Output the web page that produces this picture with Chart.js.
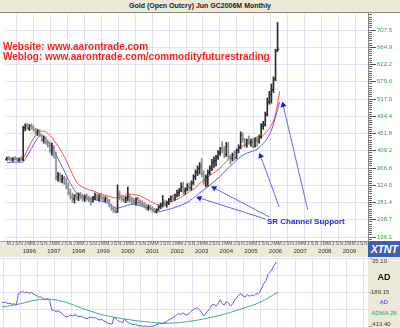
<!DOCTYPE html>
<html><head><meta charset="utf-8">
<script src="https://cdn.jsdelivr.net/npm/chart.js@4.4.1/dist/chart.umd.min.js"></script>
<style>
html,body{margin:0;padding:0;background:#fff;}
#wrap{position:relative;width:400px;height:328px;overflow:hidden;font-family:"Liberation Sans",Arial,sans-serif;}
#titlebar{position:absolute;left:0;top:0;width:400px;height:12px;background:#ece9d8;border-bottom:1px solid #8c8a7c;font-weight:bold;font-size:7px;line-height:12px;text-align:center;color:#222;}
#band{position:absolute;left:0;top:241px;width:368px;height:15px;background:#ece9d8;border-top:1px solid #a8a698;}
#logo{position:absolute;left:368px;top:241px;width:32px;height:16px;background:#3f5fb0;color:#fff;font-weight:bold;font-style:italic;font-size:11px;line-height:16px;text-align:center;letter-spacing:-0.5px;}
#lowright{position:absolute;left:368px;top:257px;width:32px;height:71px;background:#ece9d8;}
.lbl{position:absolute;font-size:6px;line-height:7px;white-space:nowrap;}
#web{position:absolute;left:3px;top:42px;color:#ff1e1e;font-weight:bold;font-size:10px;line-height:10px;white-space:nowrap;}
#sr{position:absolute;left:267px;top:217px;color:#2424e6;font-weight:bold;font-size:8px;line-height:9px;white-space:nowrap;}
canvas{position:absolute;left:0;}
#main{top:0;}
#low{top:257px;}
</style></head>
<body><div id="wrap">
<div id="titlebar">Gold (Open Outcry) Jun GC2006M Monthly</div>
<div id="band"></div>
<div id="logo">XTNT</div>
<div id="lowright"></div>
<canvas id="main" width="400" height="257"></canvas>
<canvas id="low" width="400" height="71"></canvas>
<div id="web">Website: www.aarontrade.com<br>Weblog: www.aarontrade.com/commodityfuturestrading</div>
<div id="sr">SR Channel Support</div>
<div class="lbl" style="left:370px;top:258px;color:#333">&#8254;35.10</div>
<div class="lbl" style="left:368px;top:272px;width:32px;text-align:center;font-size:9px;line-height:10px;font-weight:bold;color:#111">AD</div>
<div class="lbl" style="left:369px;top:289px;color:#333">-189.15</div>
<div class="lbl" style="left:368px;top:299px;width:32px;text-align:center;color:#3030e0">AD</div>
<div class="lbl" style="left:368px;top:310px;width:32px;text-align:center;color:#2a9a8a">ADMA 28</div>
<div class="lbl" style="left:369px;top:321px;color:#333">_413.40</div>
</div>
<script>
// months counted from Jan 1996 (0); first bar = Apr 1995
const firstMonth = -9;
const opens  = [388,390,389,387,390,388,386,389,388,466,470,465,471,466,461,455,458,448,437,441,429,422,410,418,400,345,350,338,342,331,320,305,296,290,298,293,300,294,291,296,290,288,284,293,296,290,297,292,288,291,285,274,266,262,259,302,294,290,288,292,296,287,284,281,290,282,278,275,271,268,271,266,262,260,264,270,274,280,276,282,288,295,290,298,306,312,320,310,314,320,318,330,345,356,366,372,352,336,344,356,366,380,384,394,404,414,410,400,422,394,390,398,392,410,418,448,438,424,436,430,434,420,438,432,444,470,474,500,530,548,560,586,658];
const highs  = [394,395,393,392,395,392,391,394,470,476,477,474,476,472,465,462,461,450,446,444,436,431,428,422,406,356,354,349,346,342,330,315,305,301,307,305,306,302,300,303,298,294,297,305,303,301,304,298,296,295,289,278,272,268,325,310,300,297,296,320,300,295,292,293,294,288,286,282,278,276,275,272,267,266,275,280,299,288,285,292,298,300,302,312,316,330,332,318,328,330,335,350,362,372,380,390,360,350,362,372,388,394,398,410,418,432,420,430,430,400,404,410,414,424,456,454,440,438,446,438,440,442,444,448,476,482,505,540,556,574,592,660,726];
const lows   = [385,386,384,383,386,384,383,385,385,458,462,459,462,458,450,447,445,432,428,425,418,405,398,391,337,334,332,330,326,315,300,290,282,280,288,286,290,285,284,287,283,275,282,288,287,285,289,284,283,280,270,262,257,255,257,288,285,282,281,285,282,278,276,275,278,274,272,268,264,262,263,258,256,255,262,266,270,272,270,276,284,285,287,295,298,308,302,302,310,312,312,325,338,348,352,345,326,320,322,350,360,368,372,388,398,404,392,395,388,376,384,386,390,404,414,430,418,418,425,420,416,418,420,428,440,462,470,495,524,527,553,582,655];
const closes = [390,389,387,390,388,386,389,388,466,470,465,471,466,461,455,458,448,437,441,429,422,410,418,400,345,350,338,342,331,320,305,296,290,298,293,300,294,291,296,290,288,284,293,296,290,297,292,288,291,285,274,266,262,259,302,294,290,288,292,296,287,284,281,290,282,278,275,271,268,271,266,262,260,264,270,274,280,276,282,288,295,290,298,306,312,320,310,314,320,318,330,345,356,366,372,352,336,344,356,366,380,384,394,404,414,410,400,422,394,390,398,392,410,418,448,438,424,436,430,434,420,438,432,444,470,474,500,530,548,560,586,655,660];

const redMonths = [-9,-5,-2,-1,0,1,2,3,5,7,9,11,13,15,17,19,21,23,25,27,30,33,36,40,44,47,50,53,56,59,62,65,68,71,74,77,80,83,86,89,92,95,98,101,104,107,110,113,116,118,120,122,124];
const redValues = [391,391,390,391,400,411,421,431,446,455,458,452,442,428,413,395,374,352,332,322,315,310,304,298,293,296,302,301,298,290,282,275,278,283,289,298,308,318,333,344,355,367,383,397,413,424,429,435,447,458,472,500,556];
const blueMonths = [-9,-5,-2,-1,0,1,3,5,7,9,11,13,15,17,19,21,23,25,28,32,36,40,44,47,50,53,56,59,62,65,68,71,74,77,80,83,86,89,92,95,98,101,104,107,110,113,116,118,120,122,124];
const blueValues = [380,381,381,382,388,397,415,432,446,444,432,418,400,380,360,338,320,305,297,291,286,280,268,270,275,277,273,270,265,259,262,266,271,277,285,297,309,320,333,346,362,376,391,401,407,413,427,440,460,492,530];

const adValues = [-250,-255,-252,-262,-258,-266,-262,-270,-196,-188,-183,-190,-185,-194,-190,-195,-205,-212,-220,-218,-228,-236,-230,-240,-302,-306,-312,-308,-316,-328,-340,-348,-344,-336,-342,-334,-338,-346,-342,-350,-356,-360,-352,-348,-356,-352,-362,-368,-364,-372,-380,-388,-392,-395,-348,-362,-374,-378,-384,-362,-378,-386,-392,-398,-394,-402,-406,-404,-410,-406,-412,-410,-413,-406,-400,-396,-388,-392,-386,-382,-370,-362,-356,-346,-336,-326,-332,-322,-330,-336,-326,-312,-300,-294,-288,-300,-318,-342,-326,-310,-292,-270,-266,-278,-262,-236,-262,-270,-248,-258,-278,-262,-238,-222,-204,-196,-212,-218,-202,-214,-206,-210,-200,-196,-188,-160,-130,-112,-72,-58,-36,-12,10,35];
const admaMonths = [-9,-5,-1,3,7,11,15,19,23,27,31,35,39,43,47,51,55,59,63,67,71,75,79,83,87,91,95,99,103,107,111,115,119,122,124];
const admaValues = [-284,-275,-265,-252,-240,-233,-234,-243,-258,-278,-298,-316,-332,-345,-355,-363,-371,-377,-383,-388,-389,-386,-380,-373,-364,-353,-340,-326,-310,-292,-274,-254,-225,-200,-186];

const priceTicks = [196.1,238.7,281.4,324.0,366.6,409.2,451.8,494.4,537.0,579.6,622.2,664.9,707.5];
const years = ['1996','1997','1998','1999','2000','2001','2002','2003','2004','2005','2006','2007','2008','2009'];
const monthLetters = ['J','F','M','A','M','J','J','A','S','O','N','D'];
const arrowTails = [[117.1,240.7],[119.0,245.7],[123.8,270.4],[137.7,263.0]];
const arrowHeads = [[84.9,292.6],[92.1,317.3],[114.7,396.3],[125.7,522.3]];

const X_MIN = -9.86, X_MAX = 167.07, GRID_STEP = 8.25;
const Y_MIN = 186.4, Y_MAX = 749.5;
const GRID = '#e0e0f2';
Chart.defaults.font.family = '"Liberation Sans", Arial, sans-serif';

const months = opens.map((_, i) => firstMonth + i);
const isUp = i => closes[i] >= opens[i];
const barCol = i => isUp(i) ? '#2a2a2a' : '#8c8c8c';

function noPad(s){ s.paddingLeft=0; s.paddingRight=0; s.paddingTop=0; s.paddingBottom=0; }
function gridTicks(s){ const t=[]; for(let v=-GRID_STEP; v<=X_MAX; v+=GRID_STEP) t.push({value:v}); s.ticks=t; }

const datasets = [
  { type:'bar', label:'range', xAxisID:'x', yAxisID:'y',
    data: months.map((m,i)=>({x:m, y:[lows[i], highs[i]]})),
    backgroundColor: ctx => barCol(ctx.dataIndex), borderWidth:0, barThickness:1, grouped:false },
  { type:'line', label:'open', xAxisID:'x', yAxisID:'y', showLine:false,
    data: months.map((m,i)=>({x:m-0.45, y:opens[i]})),
    pointStyle:'line', pointRadius:0.8, pointBorderWidth:1, pointBorderColor: ctx => barCol(ctx.dataIndex) },
  { type:'line', label:'close', xAxisID:'x', yAxisID:'y', showLine:false,
    data: months.map((m,i)=>({x:m+0.45, y:closes[i]})),
    pointStyle:'line', pointRadius:0.8, pointBorderWidth:1, pointBorderColor: ctx => barCol(ctx.dataIndex) },
  { type:'line', label:'upper', xAxisID:'x', yAxisID:'y',
    data: redMonths.map((m,i)=>({x:m, y:redValues[i]})),
    borderColor:'#ff4a4a', borderWidth:1, pointRadius:0, tension:0.35 },
  { type:'line', label:'lower', xAxisID:'x', yAxisID:'y',
    data: blueMonths.map((m,i)=>({x:m, y:blueValues[i]})),
    borderColor:'#5a5aff', borderWidth:1, pointRadius:0, tension:0.35 },
];
arrowTails.forEach((t, k) => {
  const h = arrowHeads[k];
  datasets.push({ type:'line', label:'arrow'+k, xAxisID:'x', yAxisID:'y',
    data:[{x:t[0], y:t[1]}, {x:h[0], y:h[1]}],
    borderColor:'#6464f5', borderWidth:1, tension:0,
    pointStyle:'triangle',
    pointRadius: ctx => ctx.dataIndex===1 ? 3.5 : 0,
    pointBackgroundColor:'#1e1ef0', pointBorderColor:'#1e1ef0', pointBorderWidth:0,
    pointRotation: ctx => {
      const sx = ctx.chart.scales.x, sy = ctx.chart.scales.y;
      const dx = sx.getPixelForValue(h[0]) - sx.getPixelForValue(t[0]);
      const dy = sy.getPixelForValue(h[1]) - sy.getPixelForValue(t[1]);
      return Math.atan2(dx, -dy) * 180 / Math.PI;
    } });
});

new Chart(document.getElementById('main'), {
  type:'bar',
  data:{ datasets },
  options:{
    responsive:false, animation:false, devicePixelRatio:1,
    layout:{ padding:{ top:13, left:0, right:0, bottom:0 } },
    plugins:{ legend:{display:false}, tooltip:{enabled:false} },
    scales:{
      x:{ type:'linear', min:X_MIN, max:X_MAX, position:'bottom', offset:false, weight:0,
          grid:{ color:GRID, drawTicks:false }, border:{display:false}, ticks:{display:false},
          afterBuildTicks: gridTicks, afterFit: s => { s.height = 0; noPad(s); } },
      xm:{ type:'linear', min:X_MIN, max:X_MAX, position:'bottom', offset:false, weight:1,
          grid:{ display:false, drawTicks:false }, border:{display:false},
          afterBuildTicks: s => { const t=[]; for(let v=-8; v<=X_MAX; v+=2) t.push({value:v}); s.ticks=t; },
          ticks:{ autoSkip:false, maxRotation:0, minRotation:0, padding:0, color:'#555', font:{size:5},
                  callback: v => monthLetters[((v%12)+12)%12] },
          afterFit: s => { s.height = 7; noPad(s); } },
      xy:{ type:'linear', min:X_MIN, max:X_MAX, position:'bottom', offset:false, weight:2,
          grid:{ display:false, drawTicks:false }, border:{display:false},
          afterBuildTicks: s => { s.ticks = years.map((y,k)=>({value:12*k+2})); },
          ticks:{ autoSkip:false, maxRotation:0, minRotation:0, padding:0, color:'#333', font:{size:6},
                  callback: (v) => years[Math.round((v-2)/12)] },
          afterFit: s => { s.height = 9; noPad(s); } },
      yr:{ type:'linear', min:Y_MIN, max:Y_MAX, position:'right', weight:0,
          grid:{ drawOnChartArea:false, drawTicks:true, tickLength:4, tickColor:'#666' },
          border:{ display:true, color:'#888' },
          afterBuildTicks: s => { const t=[]; for(let v=priceTicks[0]-42.6/8*2; v<=Y_MAX; v+=42.6/8) t.push({value:v}); s.ticks=t; },
          ticks:{ display:false, autoSkip:false },
          afterFit: s => { s.width = 4; noPad(s); } },
      y:{ type:'linear', min:Y_MIN, max:Y_MAX, position:'right', weight:1,
          grid:{ color:GRID, drawTicks:true, tickLength:4, tickColor:'#555' }, border:{display:false},
          afterBuildTicks: s => { s.ticks = priceTicks.map(v=>({value:v})); },
          ticks:{ autoSkip:false, padding:1, color:'#3e9a3e', font:{size:6},
                  callback: v => v.toFixed(1) },
          afterFit: s => { s.width = 28; noPad(s); } }
    }
  }
});

new Chart(document.getElementById('low'), {
  type:'line',
  data:{ datasets:[
    { label:'AD', data: months.map((m,i)=>({x:m, y:adValues[i]})),
      borderColor:'#5656ff', borderWidth:1, pointRadius:0, tension:0 },
    { label:'ADMA 28', data: admaMonths.map((m,i)=>({x:m, y:admaValues[i]})),
      borderColor:'#3aa898', borderWidth:1, pointRadius:0, tension:0.4 }
  ]},
  options:{
    responsive:false, animation:false, devicePixelRatio:1,
    layout:{ padding:{ top:1, bottom:1, left:0, right:0 } },
    plugins:{ legend:{display:false}, tooltip:{enabled:false} },
    scales:{
      x:{ type:'linear', min:X_MIN, max:X_MAX, position:'bottom', offset:false,
          grid:{ color:GRID, drawTicks:false }, border:{display:false}, ticks:{display:false},
          afterBuildTicks: gridTicks, afterFit: s => { s.height = 0; noPad(s); } },
      y:{ type:'linear', min:-413.4, max:35.1, position:'right',
          grid:{ color:GRID, drawTicks:false }, border:{display:false},
          afterBuildTicks: s => { const t=[]; for(let k=0;k<=4;k++) t.push({value:35.1 - k*112.125}); s.ticks=t; },
          ticks:{ display:false },
          afterFit: s => { s.width = 32; noPad(s); } }
    }
  }
});
</script>
</body></html>
